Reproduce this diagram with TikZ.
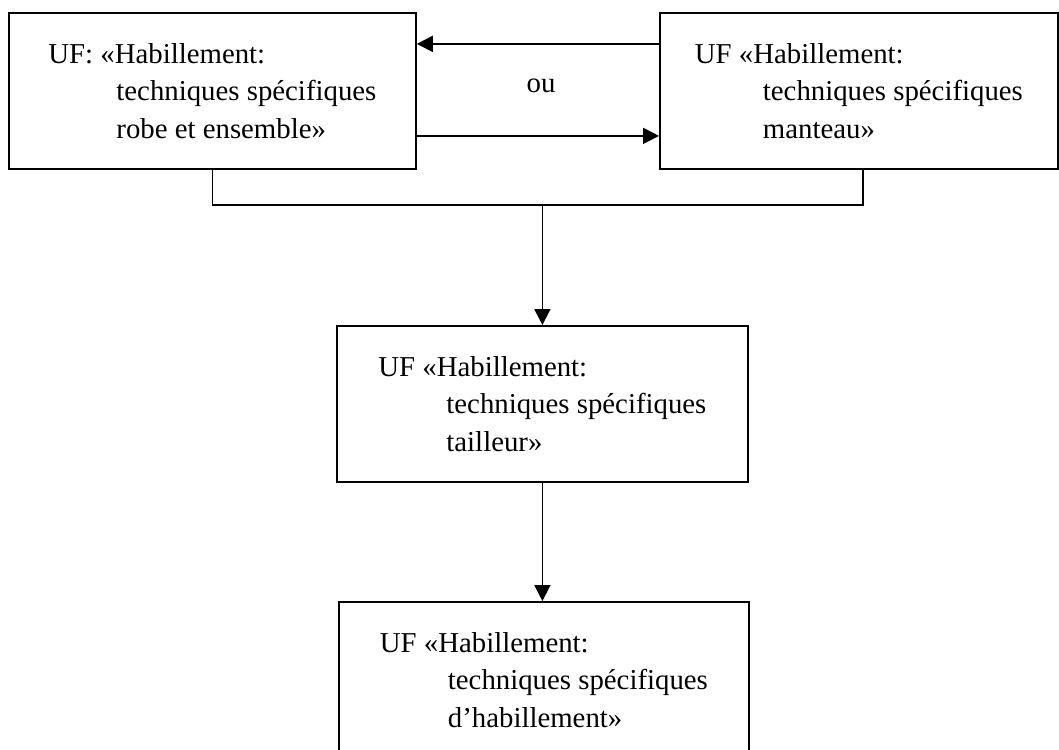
\documentclass[tikz,border=0pt]{standalone}
\usepackage{fontspec}
\setmainfont{Liberation Serif}
\usetikzlibrary{arrows.meta}

\tikzset{
  ufbox/.style={draw,line width=1.8pt,align=left,anchor=north west,inner sep=0pt,
    minimum height=156pt,font=\fontsize{28.8}{37.5}\selectfont},
  flow/.style={line width=1.8pt,-{Triangle[length=16pt,width=16pt]}},
}
\newcommand{\ufindent}{\hspace*{68pt}}

\begin{document}
\begin{tikzpicture}[x=1pt,y=-1pt]
\useasboundingbox (0,0) rectangle (1059,749);
\clip (0,0) rectangle (1059,749);

% les deux unites de depart
\node[ufbox,minimum width=407pt] (uf1) at (8,12) {UF: «Habillement:\\\ufindent techniques spécifiques\\\ufindent robe et ensemble»};
\node[ufbox,minimum width=398pt] (uf2) at (659,12) {UF «Habillement:\\\ufindent techniques spécifiques\\\ufindent manteau»};
\node[font=\fontsize{28.8}{37.5}\selectfont] (ou) at (541,86) {ou};

% suite
\node[ufbox,minimum width=411pt] (uf3) at (336,325) {UF «Habillement:\\\ufindent techniques spécifiques\\\ufindent tailleur»};
\node[ufbox,minimum width=410pt] (uf4) at (338,601) {UF «Habillement:\\\ufindent techniques spécifiques\\\ufindent d’habillement»};

\draw[flow] ([yshift=47pt]uf2.west) -- ([yshift=47pt]uf1.east);
\draw[flow] ([yshift=-45pt]uf1.east) -- ([yshift=-45pt]uf2.west);

\coordinate (join) at (uf3.north |- 0,205);
\draw[line width=1.8pt] (uf1.south) |- (join) -| ([xshift=4pt]uf2.south);
\draw[flow] (join) -- (uf3.north);
\draw[flow] (uf3.south) -- (uf3.south |- uf4.north);
\end{tikzpicture}
\end{document}
